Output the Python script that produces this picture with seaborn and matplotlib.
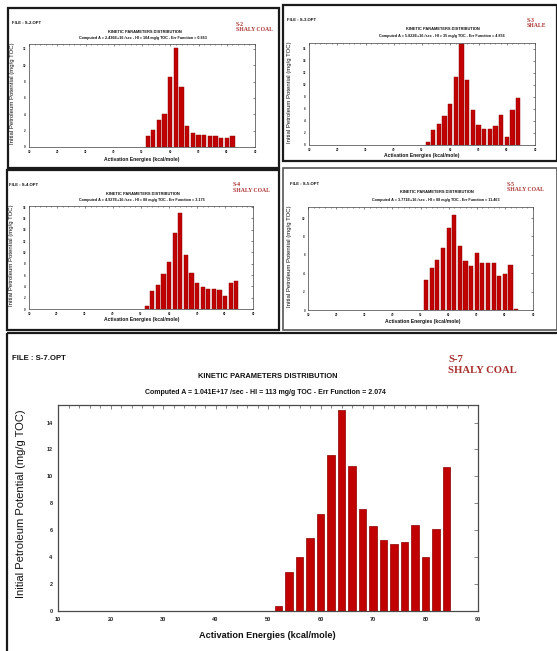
import matplotlib
matplotlib.use("Agg")
import matplotlib.pyplot as plt
from matplotlib.patches import Rectangle
from matplotlib.ticker import MultipleLocator
import pandas as pd
import seaborn as sns

sns.set_theme(style="white")
plt.rcParams["font.family"] = ["Liberation Sans", "DejaVu Sans"]

W, H = 557, 651

# ---- kinetic distributions (activation energy in kcal/mole, potential in mg/g TOC)
energies_s2 = [52, 54, 56, 58, 60, 62, 64, 66, 68, 70, 72, 74, 76, 78, 80, 82]
potential_s2 = [1.3, 2.1, 3.3, 4.0, 8.6, 12.1, 7.4, 2.6, 1.7, 1.45, 1.45, 1.3, 1.3, 1.05, 1.15, 1.35]

energies_s3 = [52, 54, 56, 58, 60, 62, 64, 66, 68, 70, 72, 74, 76, 78, 80, 82, 84]
potential_s3 = [0.55, 2.5, 3.45, 4.85, 6.85, 11.4, 16.9, 10.8, 5.85, 3.35, 2.6, 2.7, 3.2, 5.0, 1.4, 5.85, 7.9]

energies_s4 = [52, 54, 56, 58, 60, 62, 64, 66, 68, 70, 72, 74, 76, 78, 80, 82, 84]
potential_s4 = [0.45, 3.1, 4.3, 6.2, 8.3, 13.5, 17.0, 9.6, 6.3, 4.55, 3.85, 3.45, 3.55, 3.35, 2.25, 4.6, 5.0]

energies_s5 = [52, 54, 56, 58, 60, 62, 64, 66, 68, 70, 72, 74, 76, 78, 80, 82, 84]
potential_s5 = [3.3, 4.6, 5.4, 6.75, 8.95, 10.3, 6.95, 5.3, 4.75, 6.15, 5.15, 5.15, 5.15, 3.7, 3.9, 4.85, 0.1]

energies_s7 = [52, 54, 56, 58, 60, 62, 64, 66, 68, 70, 72, 74, 76, 78, 80, 82, 84]
potential_s7 = [0.4, 2.9, 4.0, 5.4, 7.2, 11.6, 14.9, 10.8, 7.6, 6.3, 5.3, 5.0, 5.1, 6.4, 4.0, 6.1, 10.7]

files = ["FILE : S-2.OPT", "FILE : S-3.OPT", "FILE : S-4.OPT", "FILE : S-5.OPT", "FILE : S-7.OPT"]
wells = ["S-2", "S-3", "S-4", "S-5", "S-7"]
lithologies = ["SHALY COAL", "SHALE", "SHALY COAL", "SHALY COAL", "SHALY COAL"]
fit_lines = [
    "Computed A = 2.436E+16 /sec - HI = 104 mg/g TOC - Err Function = 0.863",
    "Computed A = 5.822E+16 /sec - HI = 35 mg/g TOC - Err Function = 4.856",
    "Computed A = 4.927E+16 /sec - HI = 88 mg/g TOC - Err Function = 3.175",
    "Computed A = 3.771E+16 /sec - HI = 88 mg/g TOC - Err Function = 11.463",
    "Computed A = 1.041E+17 /sec - HI = 113 mg/g TOC - Err Function = 2.074",
]
title = "KINETIC PARAMETERS DISTRIBUTION"
xlabel = "Activation Energies (kcal/mole)"
ylabel = "Initial Petroleum Potential (mg/g TOC)"

BAR = "#C10000"
EDGE = "#8E0000"
LABEL_RED = "#A8302E"

fig = plt.figure(figsize=(W / 100, H / 100), dpi=100)
fig.patch.set_facecolor("white")

# pixel-space overlay for frames and headings
bg = fig.add_axes([0, 0, 1, 1], zorder=0)
bg.set_xlim(0, W)
bg.set_ylim(H, 0)
bg.axis("off")


def frame(x0, y0, x1, y1, lw=1.6, color="#1a1a1a"):
    bg.add_patch(Rectangle((x0, y0), x1 - x0, y1 - y0, fill=False, lw=lw, ec=color))


def panel(i, ax_box, energies, values, ymax, ystep, head, s):
    l, t, r, b = ax_box
    ax = fig.add_axes([l / W, 1 - b / H, (r - l) / W, (b - t) / H], zorder=2)
    df = pd.DataFrame({"energy": energies, "potential": values})
    sns.barplot(data=df, x="energy", y="potential", native_scale=True, width=0.75,
                color=BAR, edgecolor=EDGE, linewidth=0.4 * s + 0.1, saturation=1,
                errorbar=None, ax=ax)
    ax.set_xlim(10, 90)
    ax.set_ylim(0, ymax)
    ax.xaxis.set_major_locator(MultipleLocator(10))
    ax.xaxis.set_minor_locator(MultipleLocator(2))
    ax.yaxis.set_major_locator(MultipleLocator(ystep))
    ax.tick_params(which="both", direction="in", top=True, right=True,
                   colors="#555555", labelcolor="#222222", width=0.5)
    ax.tick_params(which="major", length=3.2 * s, labelsize=4.0 * s, pad=4 * s)
    ax.tick_params(which="minor", length=1.8 * s)
    for lab in ax.get_xticklabels() + ax.get_yticklabels():
        lab.set_fontweight("bold")
    for sp in ax.spines.values():
        sp.set_color("#4a4a4a")
        sp.set_linewidth(0.8 * s + 0.1)
    ax.set_xlabel("")
    ax.set_ylabel("")
    ax.set_facecolor("white")

    fx, fy, tx, ty, cy, rx, ry, xlx, xly, ylx = head
    bg.text(fx, fy, files[i], fontsize=5.6 * s, fontweight="bold", ha="left", va="center", color="#111111")
    bg.text(tx, ty, title, fontsize=5.4 * s, fontweight="bold", ha="center", va="center", color="#111111")
    bg.text(tx - 3 * s, cy, fit_lines[i], fontsize=5.0 * s, fontweight="bold", ha="center", va="center", color="#111111")
    bg.text(rx, ry, wells[i], fontsize=7.7 * s, fontweight="bold", ha="left", va="center",
            color=LABEL_RED, family="Liberation Serif")
    bg.text(rx, ry + 10.5 * s, lithologies[i], fontsize=7.7 * s, fontweight="bold", ha="left", va="center",
            color=LABEL_RED, family="Liberation Serif")
    bg.text(xlx, xly, xlabel, fontsize=6.6 * s, fontweight="bold", ha="center", va="center", color="#111111")
    bg.text(ylx, (t + b) / 2 - 4 * s, ylabel, fontsize=8.0 * s, rotation=90, ha="center", va="center", color="#111111")
    return ax


# panel frames
frame(8, 8, 279, 168)
frame(283, 5, 557, 161)
frame(7, 170, 279, 330)
frame(283, 168, 557, 330, lw=1.2, color="#555555")
frame(7, 333, 560, 655)

sm = 0.54
panel(0, (29, 44, 255, 147), energies_s2, potential_s2, 12.6, 2,
      (12, 23, 145, 32, 38, 236, 24, 142, 159, 13), sm)
panel(1, (309, 43, 535, 145), energies_s3, potential_s3, 17.0, 2,
      (287, 20, 443, 29, 36, 527, 20, 422, 156, 289), sm)
panel(2, (29, 206, 253, 309), energies_s4, potential_s4, 18.2, 2,
      (9, 185, 143, 194, 200, 233, 185, 142, 320, 12), sm)
panel(3, (308, 207, 533, 310), energies_s5, potential_s5, 11.2, 2,
      (290, 184, 437, 192, 200, 507, 184, 423, 322, 289), sm)
panel(4, (58, 405, 478, 611), energies_s7, potential_s7, 15.3, 2,
      (12, 358, 268, 377, 392, 448, 360, 267, 636, 21), 1.0)

fig.savefig("out.png", dpi=100, facecolor="white")
